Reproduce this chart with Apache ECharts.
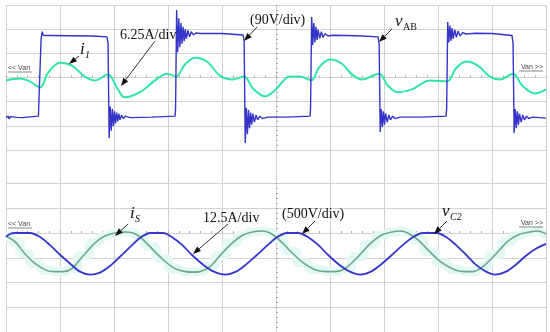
<!DOCTYPE html>
<html><head><meta charset="utf-8">
<script src="https://cdn.jsdelivr.net/npm/echarts@6/dist/echarts.min.js"></script>
<style>html,body{margin:0;padding:0;background:#fff}#c{width:550px;height:332px}</style>
</head><body><div id="c"></div>
<script>
// time in divisions (0..10), amplitude in divisions
const topVab = [[0,-1.66],[0.02,-1.74],[0.04,-1.6],[0.06,-1.72],[0.08,-1.62],[0.1,-1.7],[0.13,-1.63],[0.16,-1.69],[0.2,-1.65],[0.3,-1.66],[0.45,-1.63],[0.6,-1.6],
[0.62,-1.55],[0.65,1.6],[0.67,1.9],[0.69,1.75],[0.71,1.83],[0.73,1.74],[0.76,1.78],[0.8,1.74],[1.2,1.73],[1.6,1.72],[1.87,1.68],
[1.89,1.4],[1.91,-2.5],[1.93,-1.2],[1.95,-2.2],[1.97,-1.3],[1.99,-2.0],[2.01,-1.4],[2.03,-1.9],[2.05,-1.45],[2.07,-1.82],[2.09,-1.5],[2.11,-1.75],[2.14,-1.55],[2.17,-1.7],[2.21,-1.6],[2.3,-1.66],[2.7,-1.64],[3.13,-1.6],
[3.14,-1.3],[3.16,2.79],[3.18,1.05],[3.2,2.45],[3.22,1.25],[3.24,2.25],[3.26,1.4],[3.28,2.1],[3.3,1.5],[3.32,2.0],[3.34,1.6],[3.37,1.95],[3.4,1.68],[3.43,1.9],[3.47,1.76],[3.52,1.84],[3.6,1.82],[4.0,1.82],[4.39,1.76],
[4.41,1.5],[4.43,-2.71],[4.45,-1.25],[4.47,-2.35],[4.49,-1.35],[4.51,-2.1],[4.53,-1.45],[4.55,-1.95],[4.57,-1.5],[4.6,-1.85],[4.63,-1.55],[4.66,-1.75],[4.7,-1.6],[4.75,-1.7],[4.85,-1.64],[5.2,-1.64],[5.63,-1.6],
[5.64,-1.3],[5.66,2.5],[5.68,1.35],[5.7,2.25],[5.72,1.45],[5.74,2.1],[5.76,1.55],[5.78,1.98],[5.81,1.62],[5.84,1.9],[5.87,1.66],[5.91,1.82],[5.96,1.72],[6.05,1.75],[6.5,1.73],[6.89,1.68],
[6.91,1.4],[6.93,-2.25],[6.95,-1.3],[6.97,-2.05],[6.99,-1.4],[7.01,-1.95],[7.03,-1.48],[7.06,-1.85],[7.09,-1.55],[7.12,-1.75],[7.16,-1.6],[7.2,-1.7],[7.3,-1.64],[7.7,-1.64],[8.15,-1.6],
[8.16,-1.3],[8.18,2.3],[8.2,1.45],[8.22,2.15],[8.24,1.52],[8.26,2.05],[8.28,1.6],[8.31,1.98],[8.34,1.66],[8.37,1.92],[8.41,1.72],[8.46,1.86],[8.52,1.8],[8.7,1.83],[9.0,1.82],[9.37,1.74],
[9.39,1.4],[9.41,-2.3],[9.43,-1.3],[9.45,-2.1],[9.47,-1.4],[9.49,-1.95],[9.51,-1.5],[9.54,-1.85],[9.57,-1.55],[9.6,-1.75],[9.64,-1.6],[9.68,-1.7],[9.75,-1.64],[10,-1.68]];

const topI1 = [[0,-0.12],[0.26,-0.04],[0.44,-0.16],[0.63,-0.41],[0.78,0.2],[1.0,0.61],[1.22,0.49],[1.46,0.04],[1.65,-0.12],[1.89,0.12],
[2.06,-0.45],[2.2,-0.82],[2.48,-0.61],[2.76,-0.12],[2.98,0.16],[3.15,0.04],[3.31,0.53],[3.5,0.82],[3.72,0.66],[3.96,0.08],[4.19,-0.08],[4.41,0.04],
[4.57,-0.45],[4.8,-0.78],[4.98,-0.53],[5.26,0.04],[5.44,0.04],[5.65,-0.12],[5.81,0.45],[6.0,0.74],[6.22,0.57],[6.41,0.12],[6.59,-0.08],[6.91,0.16],
[7.07,-0.33],[7.26,-0.61],[7.52,-0.49],[7.85,-0.12],[8.17,-0.16],[8.33,0.37],[8.52,0.66],[8.74,0.49],[8.96,0.04],[9.15,-0.08],[9.39,0.16],
[9.56,-0.33],[9.8,-0.66],[10,-0.49]];

const botIs = [[0,-0.12],[0.17,-0.36],[0.35,-0.84],[0.54,-1.24],[0.76,-1.52],[0.91,-1.56],[1.06,-1.56],[1.22,-1.44],[1.43,-0.92],[1.65,-0.4],[1.83,-0.12],[2.02,0],[2.2,0.04],[2.35,0],
[2.48,-0.16],[2.67,-0.56],[2.89,-1.04],[3.13,-1.44],[3.33,-1.56],[3.46,-1.58],[3.59,-1.56],[3.78,-1.36],[3.96,-0.92],[4.19,-0.4],[4.39,-0.08],[4.56,0.04],[4.74,0.08],[4.89,0],
[5.04,-0.24],[5.26,-0.72],[5.5,-1.2],[5.72,-1.48],[5.94,-1.56],[6.09,-1.56],[6.28,-1.44],[6.52,-0.96],[6.74,-0.44],[6.96,-0.08],[7.15,0.04],[7.3,0.08],[7.44,0],
[7.63,-0.28],[7.85,-0.76],[8.07,-1.2],[8.31,-1.48],[8.5,-1.56],[8.65,-1.56],[8.83,-1.36],[9.06,-0.88],[9.28,-0.36],[9.48,-0.08],[9.7,0.04],[9.85,0.08],[10,-0.04]];

const botVc2 = [[0,-0.16],[0.07,-0.04],[0.17,0],[0.44,0],[0.63,-0.16],[0.81,-0.48],[1.0,-0.88],[1.19,-1.24],[1.37,-1.56],[1.56,-1.68],[1.74,-1.6],[1.93,-1.32],[2.11,-0.96],[2.3,-0.56],[2.48,-0.2],
[2.67,0],[2.91,0],[3.07,-0.16],[3.26,-0.48],[3.44,-0.88],[3.65,-1.28],[3.85,-1.56],[4.06,-1.68],[4.26,-1.56],[4.44,-1.28],[4.63,-0.92],[4.81,-0.56],[5.0,-0.2],
[5.2,0],[5.41,0],[5.59,-0.16],[5.78,-0.48],[5.96,-0.88],[6.17,-1.28],[6.37,-1.56],[6.56,-1.68],[6.76,-1.56],[6.94,-1.28],[7.15,-0.88],[7.33,-0.52],[7.54,-0.16],
[7.72,0],[7.98,0],[8.15,-0.16],[8.33,-0.48],[8.52,-0.88],[8.7,-1.28],[8.89,-1.56],[9.06,-1.68],[9.26,-1.56],[9.44,-1.28],[9.63,-0.92],[9.81,-0.64],[10,-0.44]];

const annotations = [
  {text:'6.25A/div', x:120, y:35, from:[155,41], to:[121,86]},
  {text:'(90V/div)', x:250, y:20, from:[257,27], to:[244,41]},
  {text:'12.5A/div', x:203, y:218, from:[228,224], to:[193,254]},
  {text:'(500V/div)', x:282, y:214, from:[315,221], to:[302,234]}
];
const symbols = [
  {main:'i', sub:'1', x:80, y:50, from:[79,56], to:[69,64]},
  {main:'v', sub:'AB', x:395, y:22, from:[392,29], to:[379,42], subItalic:false},
  {main:'i', sub:'S', x:130, y:214, from:[128,224], to:[115,236]},
  {main:'v', sub:'C2', x:442, y:212, from:[447,221], to:[434,234]}
];

const chart = echarts.init(document.getElementById('c'), null, {renderer:'canvas'});
const gridColor = '#d2d2d2';
const serif = "'Liberation Serif','Times New Roman',serif";

function arrow(f, t) {
  const dx = t[0]-f[0], dy = t[1]-f[1];
  const L = Math.sqrt(dx*dx+dy*dy), ux = dx/L, uy = dy/L;
  const hl = 8, hw = 3;
  const bx = t[0]-ux*hl, by = t[1]-uy*hl;
  return [
    {type:'line', shape:{x1:f[0], y1:f[1], x2:bx, y2:by}, style:{stroke:'#333', lineWidth:1}, z:100},
    {type:'polygon', shape:{points:[[t[0],t[1]],[bx-uy*hw, by+ux*hw],[bx+uy*hw, by-ux*hw]]}, style:{fill:'#111'}, z:100}
  ];
}
const graphics = [];
annotations.forEach(a => {
  graphics.push({type:'text', x:a.x, y:a.y, style:{text:a.text, font:'14px '+serif, fill:'#111', verticalAlign:'middle', align:'left'}, z:100});
  graphics.push(...arrow(a.from, a.to));
});
symbols.forEach(s => {
  graphics.push({type:'text', x:s.x, y:s.y, style:{text:s.main, font:'italic 17px '+serif, fill:'#111', verticalAlign:'middle'}, z:100});
  graphics.push({type:'text', x:s.x+(s.main==='v'?8:5), y:s.y+5, style:{text:s.sub, font:(s.subItalic===false?'':'italic ')+'10px '+serif, fill:'#111', verticalAlign:'middle'}, z:100});
  graphics.push(...arrow(s.from, s.to));
});
[[8,68,'<< Van','left'],[543,67,'Van >>','right'],[8,224,'<< Van','left'],[543,223,'Van >>','right']].forEach(v => {
  graphics.push({type:'text', x:v[0], y:v[1], style:{text:v[2], font:'7px Arial, sans-serif', fill:'#444', verticalAlign:'middle', align:v[3]}, z:100});
  const x1 = v[3]==='left'? v[0] : v[0]-24;
  graphics.push({type:'line', shape:{x1:x1, y1:v[1]+4, x2:x1+24, y2:v[1]+4}, style:{stroke:'#555', lineWidth:0.7}, z:100});
});

function xAx(gi, zeroLine) {
  return {type:'value', gridIndex:gi, min:0, max:10, interval:1,
    axisLabel:{show:false},
    axisLine:{show:zeroLine, onZero:true, lineStyle:{color:gridColor}},
    axisTick:{show:zeroLine, inside:true, length:2, lineStyle:{color:'#aaa'}},
    minorTick:{show:zeroLine, splitNumber:5, length:2, lineStyle:{color:'#aaa'}},
    splitLine:{show:true, lineStyle:{color:gridColor, width:1}}};
}
function yAx(gi, min, max, show) {
  return {type:'value', gridIndex:gi, min:min, max:max, interval:1,
    axisLabel:{show:false}, axisLine:{show:false}, axisTick:{show:false},
    splitLine:{show:show, lineStyle:{color:gridColor, width:1}}};
}
function centerAx(gi, min, max) {
  return {type:'value', gridIndex:gi, min:min, max:max, interval:1, position:'left', offset:-270,
    axisLabel:{show:false}, axisLine:{show:true, onZero:false, lineStyle:{color:gridColor}},
    axisTick:{show:true, inside:true, length:2, lineStyle:{color:'#aaa'}},
    minorTick:{show:true, splitNumber:5, length:2, lineStyle:{color:'#aaa'}},
    splitLine:{show:false}};
}

chart.setOption({
  animation:false,
  backgroundColor:'#fff',
  grid:[
    {left:6, right:4, top:5, height:145},
    {left:6, right:4, top:150, height:33.5},
    {left:6, right:4, top:183.5, height:150}
  ],
  xAxis:[xAx(0,true), xAx(1,false), xAx(2,true)],
  yAxis:[yAx(0,-3,3,true), yAx(1,0,1,false), yAx(2,-4,2,true), centerAx(0,-3,3), centerAx(2,-4,2)],
  graphic:graphics,
  series:[
    {type:'line', xAxisIndex:0, yAxisIndex:0, data:topI1, showSymbol:false, smooth:0.35, lineStyle:{color:'#2fe6a2', width:2}, z:3},
    {type:'line', xAxisIndex:0, yAxisIndex:0, data:topVab, showSymbol:false, lineStyle:{color:'#3434c8', width:1.4}, z:4},
    {type:'line', xAxisIndex:2, yAxisIndex:2, data:botIs, showSymbol:false, step:'middle', lineStyle:{color:'#e4f9f6', width:9}, z:1},
    {type:'line', xAxisIndex:2, yAxisIndex:2, data:botIs, showSymbol:false, smooth:0.3, lineStyle:{color:'#6aa88a', width:1.6}, z:3},
    {type:'line', xAxisIndex:2, yAxisIndex:2, data:botVc2, showSymbol:false, smooth:0.3, lineStyle:{color:'#3535cc', width:1.8}, z:4}
  ]
});
</script></body></html>
